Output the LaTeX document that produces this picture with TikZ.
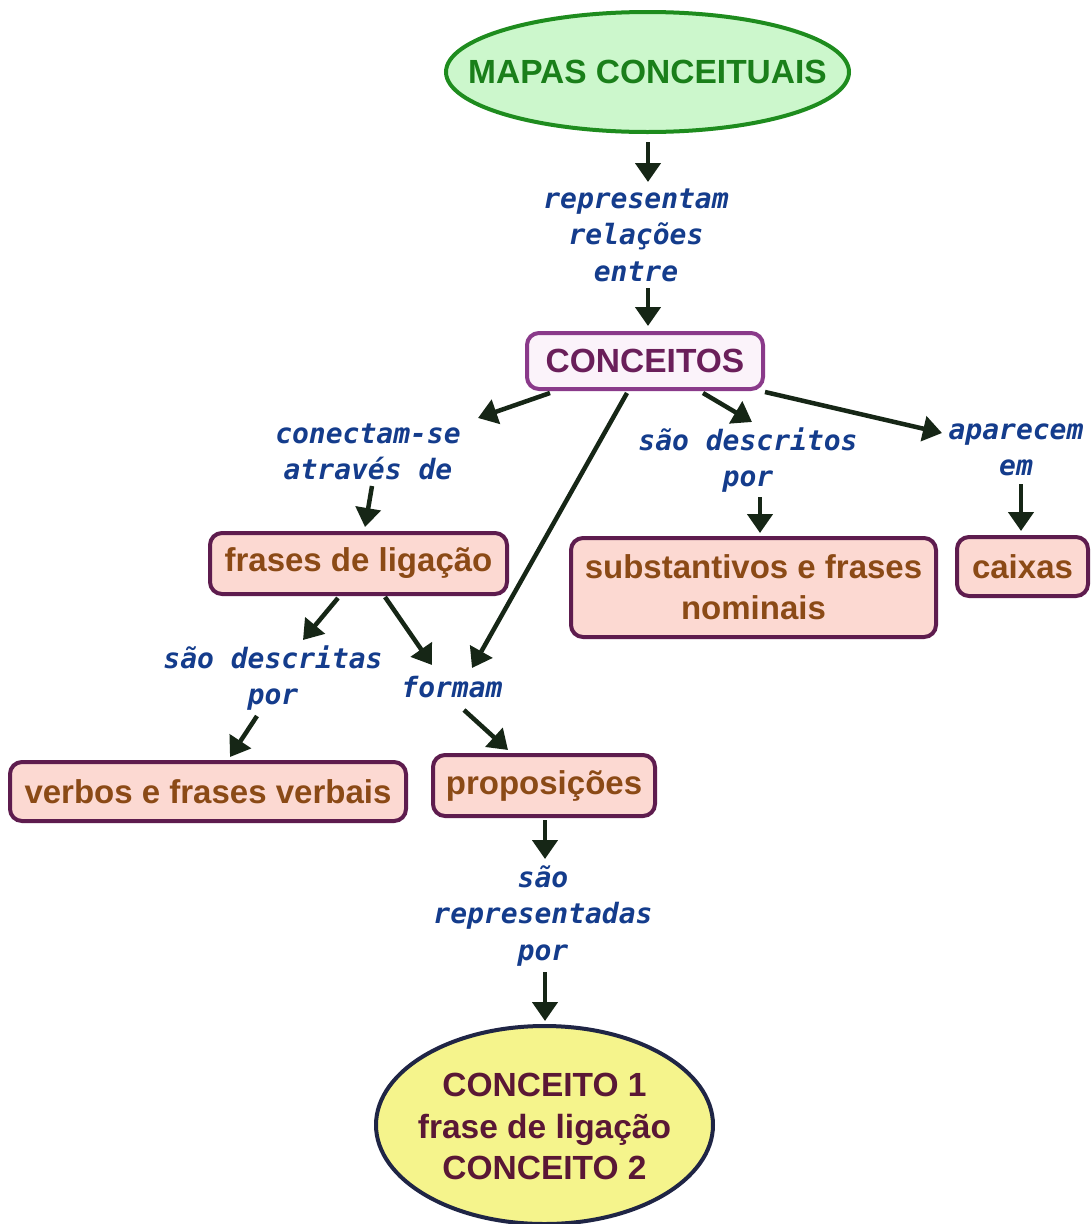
\documentclass[tikz,border=0pt]{standalone}
\usepackage{fontspec}
\setmainfont{Liberation Sans}
\newfontfamily\linkfont{DejaVu Sans Mono}
\usetikzlibrary{shapes.geometric,arrows.meta,calc}
\definecolor{topfill}{HTML}{CCF7CC}
\definecolor{topdraw}{HTML}{1E8C1E}
\definecolor{toptext}{HTML}{1A7F1A}
\definecolor{concfill}{HTML}{FBF3FA}
\definecolor{concdraw}{HTML}{8A3A8A}
\definecolor{conctext}{HTML}{6A1F5A}
\definecolor{pinkfill}{HTML}{FCD9D2}
\definecolor{pinkdraw}{HTML}{5E1C4E}
\definecolor{pinktext}{HTML}{8B4A16}
\definecolor{botfill}{HTML}{F5F48C}
\definecolor{botdraw}{HTML}{1F2545}
\definecolor{bottext}{HTML}{5A1735}
\definecolor{linktext}{HTML}{143C8C}
\definecolor{arrowcol}{HTML}{162616}
\begin{document}
\begin{tikzpicture}[x=1pt,y=-1pt,
  boxfont/.style={font=\fontsize{33}{41}\selectfont\bfseries},
  conceptbox/.style={boxfont,draw=pinkdraw,fill=pinkfill,text=pinktext,line width=4pt,rounded corners=12pt,inner sep=0pt,align=center},
  linklabel/.style={font=\linkfont\fontsize{28}{36.5}\selectfont\bfseries\itshape,text=linktext,align=center,inner sep=0pt},
  arr/.style={draw=arrowcol,line width=4.5pt,-{Triangle[length=19pt,width=25pt]}}]
\useasboundingbox (0,0) rectangle (1091,1224);
\fill[white] (0,0) rectangle (1091,1224);

% concepts
\node[ellipse,font=\fontsize{33.5}{41}\selectfont\bfseries,draw=topdraw,fill=topfill,text=toptext,line width=4pt,minimum width=403pt,minimum height=120pt,inner sep=0pt] (top) at (647.5,72) {\makebox[0pt][c]{MAPAS CONCEITUAIS}};
\node[font=\fontsize{33.5}{41}\selectfont\bfseries,draw=concdraw,fill=concfill,text=conctext,line width=4pt,rounded corners=12pt,minimum width=236pt,minimum height=56pt,inner sep=0pt] (conc) at (645,361) {CONCEITOS};
\node[conceptbox,minimum width=297pt,minimum height=61pt] (frases) at (358.5,563.5) {frases de ligação};
\node[conceptbox,minimum width=365pt,minimum height=99pt] (subst) at (753.5,587.5) {substantivos e frases\\nominais};
\node[conceptbox,minimum width=131pt,minimum height=59pt] (caixas) at (1022.5,566.5) {caixas};
\node[conceptbox,minimum width=396pt,minimum height=59pt] (verbos) at (208,791.5) {verbos e frases verbais};
\node[conceptbox,minimum width=222pt,minimum height=61pt] (prop) at (544,785.5) {proposições};
\node[ellipse,font=\fontsize{33.5}{41.5}\selectfont\bfseries,draw=botdraw,fill=botfill,text=bottext,line width=4pt,minimum width=337pt,minimum height=198pt,inner sep=0pt] (bot) at (544.5,1125) {\makebox[0pt][c]{\raisebox{-5pt}[\height][\depth]{\begin{tabular}{@{}c@{}}CONCEITO 1\\frase de ligação\\CONCEITO 2\end{tabular}}}};

% linking phrases
\node[linklabel] (rep) at (636,235) {representam\\relações\\entre};
\node[linklabel] (conn) at (368,452) {conectam-se\\através de};
\node[linklabel] (desc) at (748,460) {são descritos\\por};
\node[linklabel] (apar) at (1016,450) {aparecem\\em};
\node[linklabel] (descr) at (273,678) {são descritas\\por};
\node[linklabel] (formam) at (452,687) {formam};
\node[linklabel] (reprd) at (543,916) {são\\representadas\\por};

% connectors
\draw[arr] ($(top)+(0.5,70)$) -- ($(rep)+(12,-53)$);
\draw[arr] ($(rep)+(12,53)$) -- ($(conc)+(3,-35)$);
\draw[arr] ($(conc)+(-95,32)$) -- ($(conn)+(110,-34)$);
\draw[arr] ($(conn)+(4,34)$) -- ($(frases)+(6.5,-36.5)$);
\draw[arr] ($(conc)+(-18,32)$) -- ($(formam)+(20,-19)$);
\draw[arr] ($(conc)+(58,32)$) -- ($(desc)+(4,-38)$);
\draw[arr] ($(desc)+(12,37)$) -- ($(subst)+(6.5,-54.5)$);
\draw[arr] ($(conc)+(120,31)$) -- ($(apar)+(-74,-17)$);
\draw[arr] ($(apar)+(5,34)$) -- ($(caixas)+(-1.5,-35.5)$);
\draw[arr] ($(frases)+(-20.5,34.5)$) -- ($(descr)+(30,-38)$);
\draw[arr] ($(frases)+(26.5,33.5)$) -- ($(formam)+(-20,-22)$);
\draw[arr] ($(descr)+(-16,38)$) -- ($(verbos)+(22,-34.5)$);
\draw[arr] ($(formam)+(12,23)$) -- ($(prop)+(-36,-35.5)$);
\draw[arr] ($(prop)+(1,34.5)$) -- ($(reprd)+(2,-57)$);
\draw[arr] ($(reprd)+(2,56)$) -- ($(bot)+(0.5,-104)$);
\end{tikzpicture}
\end{document}
